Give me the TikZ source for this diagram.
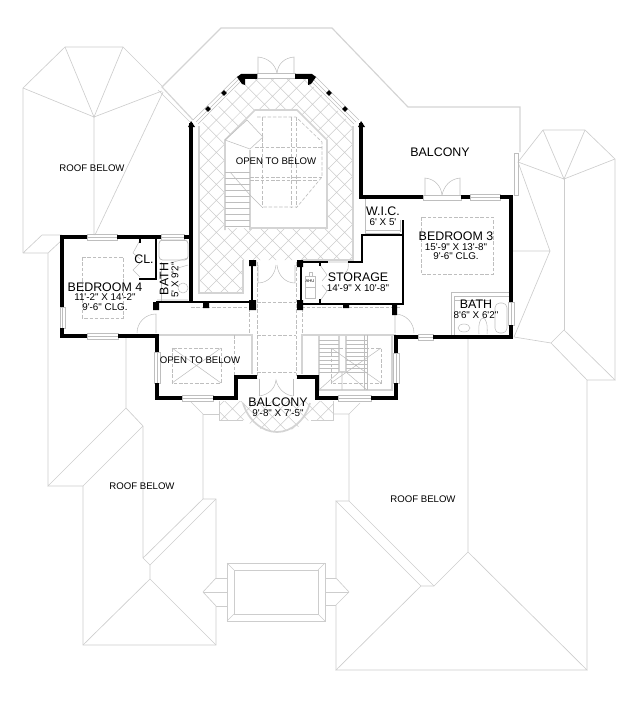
\documentclass[tikz,border=0pt]{standalone}
\usepackage{fontspec}
\usetikzlibrary{shapes.geometric}
\newfontfamily\planfont{Liberation Sans}
\definecolor{roofgray}{HTML}{CDCDCD}
\definecolor{railgray}{HTML}{D4D4D4}
\definecolor{fixgray}{HTML}{BEBEBE}
\tikzset{
  wall/.style={line width=3.4pt, black, line cap=butt},
  thinwall/.style={line width=2.2pt, black},
  roofline/.style={line width=0.55pt, roofgray},
  rail/.style={line width=1.5pt, railgray},
  glass/.style={line width=0.5pt, draw=fixgray},
  fixture/.style={line width=0.45pt, fixgray},
  tray/.style={line width=0.5pt, fixgray, dashed, dash pattern=on 3pt off 1.5pt},
  tile/.style={line width=0.45pt, roofgray},
  roomname/.style={font=\planfont\fontsize{10.6}{12}\selectfont, inner sep=0pt},
  roomsize/.style={font=\planfont\fontsize{8.4}{10}\selectfont, inner sep=0pt},
  roofname/.style={font=\planfont\fontsize{8.2}{10}\selectfont, inner sep=0pt},
  post/.style={fill=black, minimum size=3.4pt, inner sep=0pt, rotate=45}
}
\begin{document}
\begin{tikzpicture}[x=0.03cm,y=-0.03cm]
\useasboundingbox (0,0) rectangle (625,702);

% roof upper left
\draw[roofline] (23,253) -- (23,88) -- (65,47) -- (123,47) -- (163,87);
\draw[roofline] (23,88) -- (94,117) -- (65,47) (123,47) -- (94,117) -- (162,91);
\draw[roofline] (94,117) -- (94,235) (163,92) -- (95,235);
\draw[roofline] (23,253) -- (42,235) -- (62,235) (23,253) -- (48,253) -- (62,240);
\draw[roofline] (48,253) -- (48,486) -- (126,408) -- (126,337);
% roof lower left
\draw[roofline] (126,408) -- (143,426) -- (83,486) -- (48,486);
\draw[roofline] (83,486) -- (83,645) -- (216,645) -- (216,606) -- (203,592) -- (216,578) -- (216,499) -- (203,499) -- (203,414) -- (191,402);
\draw[roofline] (203,414) -- (219,414);
\draw[roofline] (143,426) -- (143,558) -- (150,565) -- (216,499) (203,499) -- (143,558);
\draw[roofline] (150,565) -- (150,579) -- (83,645) (150,579) -- (216,645);
% roof lower right
\draw[roofline] (468,338) -- (468,552) -- (434,586) -- (421,586) -- (336,670) -- (587,670) -- (468,552);
\draw[roofline] (587,670) -- (587,380) -- (615,380) -- (564,330) -- (551,343) -- (587,380);
\draw[roofline] (349,501) -- (349,414) -- (360,403) (349,414) -- (333,414);
\draw[roofline] (349,501) -- (336,501) -- (421,586) (349,501) -- (434,586);
\draw[roofline] (336,501) -- (336,578) -- (349,592) -- (336,605) -- (336,670);
% roof right
\draw[roofline] (615,380) -- (615,159) -- (585,130) -- (543,130) -- (518,162);
\draw[roofline] (518,162) -- (564,179) -- (543,130) (585,130) -- (564,179) -- (615,159);
\draw[roofline] (564,179) -- (564,330);
\draw[roofline] (518,162) -- (550,251) -- (514,337) -- (551,343) (513,251) -- (550,251);

% front roof frame
\draw[roofline] (227,563) rectangle (325,621) (234,570) rectangle (318,614);
\draw[roofline] (227,563) -- (234,570) (325,563) -- (318,570) (227,621) -- (234,614) (325,621) -- (318,614);
\draw[roofline] (216,578) -- (227,578) (203,592) -- (227,592) (216,606) -- (227,606);
\draw[roofline] (325,578) -- (336,578) (325,592) -- (349,592) (325,605) -- (336,605);

% upper balcony edge
\draw[rail, line width=1pt] (193,120) -- (162,87) -- (221,28) -- (332,28) -- (408,107) -- (520,107) -- (520,152);
\draw[roofline] (158,90) -- (190,122);
\draw[glass] (514,153) rectangle (518,195);

% tiled floor around opening
\begin{scope}
\clip (199,126) -- (246,79) -- (306,79) -- (353,126) -- (353,260) -- (243,260) -- (243,293) -- (200,293) -- cycle;
\draw[tile, step=0.34cm, rotate=45] (-600,-600) grid (600,600);
\end{scope}
\fill[white] (225,140) -- (255,110) -- (297,110) -- (327,140) -- (327,228) -- (225,228) -- cycle;
\draw[rail] (225,230) -- (225,140) -- (255,110) -- (297,110) -- (327,140) -- (327,228) -- (250,228);
\draw[rail] (199,126) -- (199,293) -- (243,293) -- (243,260);
\draw[rail, line width=1pt] (353,126) -- (353,260) -- (302,260);
\draw[rail, line width=1pt] (250,150) -- (250,230);
\foreach \treadY in {172,178,...,228}
  \draw[fixture] (225,\treadY) -- (250,\treadY);
\draw[fixture] (225,140) -- (247,120) -- (263,137) -- (250,149) -- (225,140);
\draw[tray] (257,117) -- (296,117) -- (322,142) -- (322,177) -- (297,207) -- (262,207);
\draw[tray] (262,117) -- (262,207) (291,117) -- (291,207) (296,117) -- (296,207);
\draw[tray] (255,147) -- (322,147) (250,177) -- (322,177) (250,180) -- (318,180);
\draw[fixture] (262,207) -- (250,195) (230,172) -- (250,195);

% upper doors
\draw[fixture] (258,73) -- (258,57) .. controls (268,58) and (275,64) .. (277,73);
\draw[fixture] (294,73) -- (294,57) .. controls (284,58) and (278,64) .. (277,73);
\draw[fixture] (257,73) rectangle (295,78);
\draw[fixture] (425,195) -- (425,178) .. controls (435,179) and (441,186) .. (442,195);
\draw[fixture] (460,195) -- (460,178) .. controls (450,179) and (444,186) .. (442,195);
\draw[fixture] (423,195) rectangle (461,200);

% bay window lines
\draw[fixture] (193,120) -- (238,76) (196,122) -- (240,78) (198,124) -- (242,80);
\draw[fixture] (359,120) -- (315,76) (356,122) -- (312,78) (354,124) -- (310,80);
\node[post] (post a) at (224,93) {};
\node[post] (post b) at (208,109) {};
\node[post] (post c) at (329,93) {};
\node[post] (post d) at (345,109) {};

% hall dashes and rails
\draw[tray] (257,262) -- (257,378) (296,262) -- (296,378) (249,308) -- (249,335) (302,308) -- (302,335);
\draw[tray] (191,307) -- (252,307) (296,307) -- (400,307) (257,302) -- (296,302) (257,335) -- (296,335) (257,372) -- (296,372);
\draw[rail] (157,335) -- (252,335) -- (252,374);
\draw[rail] (396,335) -- (302,335) -- (302,374);
\draw[fixture] (258,265) -- (258,283) .. controls (268,283) and (275,275) .. (276,265);
\draw[fixture] (295,265) -- (295,283) .. controls (285,283) and (278,275) .. (277,265);
\draw[fixture] (259,379) -- (259,396) (293,379) -- (293,396);
\draw[fixture] (259,396) .. controls (268,395) and (275,389) .. (276,380) .. controls (278,389) and (285,395) .. (293,396);

% left opening
\draw[tray] (172,348) rectangle (221,383);
\draw[fixture] (172,383) -- (221,348) (172,348) -- (221,383);
\draw[tray] (234,335) -- (234,375);

% stair well
\draw[rail, line width=1pt] (319,335) -- (319,390) -- (392,390) -- (392,335);
\draw[rail, line width=1pt] (339,335) -- (339,372) -- (346,372) -- (346,335);
\foreach \treadY in {340,344,...,372} {
  \draw[fixture] (319,\treadY) -- (339,\treadY);
  \draw[fixture] (346,\treadY) -- (367,\treadY);
}
\draw[fixture] (367,335) -- (367,390) (364,335) -- (364,390);
\draw[fixture] (319,390) -- (339,372) (367,390) -- (346,372) (342,372) -- (342,390);
\draw[tray] (331,348) rectangle (381,383);
\draw[fixture] (331,383) -- (381,348) (331,348) -- (381,383);

% lower balcony
\begin{scope}
\clip (219,401) -- (219,420) -- (245,420) .. controls (252,426) and (265,432) .. (277,432) .. controls (289,432) and (302,426) .. (309,420) -- (333,420) -- (333,401) -- cycle;
\draw[tile, step=0.34cm, rotate=45] (-600,-600) grid (600,600);
\end{scope}
\draw[roofline] (243,420) -- (219,420) -- (219,401) (311,420) -- (333,420) -- (333,401);
\draw[rail] (243,403) .. controls (248,420) and (262,432) .. (277,432) .. controls (292,432) and (305,420) .. (310,403);

% bedroom 4
\draw[tray] (82,257) rectangle (123,318);
\draw[fixture] (156,333) -- (156,314) arc[start angle=-90, end angle=-180, radius=19];
\draw[fixture] (140,240) -- (133,253) -- (140,259) (140,263) -- (133,270) -- (140,277);
\draw[fixture, line width=0.7pt, rounded corners=3pt] (159,240) rectangle (188,260);
\draw[fixture] (157,300) -- (188,300) (170,263) -- (188,258) (178,268) -- (188,265);
\draw[fixture] (183,288) ellipse (5 and 5);
\draw[fixture] (161,262) -- (161,302);

% bedroom 3
\draw[tray] (421,217) rectangle (493,274);
\draw[fixture] (451,335) -- (451,292) -- (510,292) (454,335) -- (454,296) -- (510,296);
\draw[fixture] (454,300) -- (490,300);
\draw[fixture, rounded corners=4pt] (495,303) rectangle (507,333);
\draw[fixture] (464,328) ellipse (6 and 4);
\draw[fixture] (479,334) .. controls (478,325) and (480,318) .. (483,318) .. controls (486,318) and (488,325) .. (487,334);
\draw[fixture] (395,333) -- (395,314) arc[start angle=-90, end angle=0, radius=19];

% storage and w.i.c.
\draw[fixture] (365,233) -- (400,233) (365,230) -- (400,230) (365,199) -- (365,235) (400,220) -- (400,232);
\draw[fixture] (305,276) rectangle (315,287) (305,287) rectangle (315,298);
\draw[fixture] (309,276) -- (309,272) -- (312,272) -- (312,276);
\draw[fixture] (320,265) -- (327,275) -- (322,281) (320,301) -- (327,291) -- (322,285);
\draw[fixture] (328,262) -- (348,262) (348,262) .. controls (349,267) and (348,271) .. (345,273);

% windows
\draw[glass] (87,234) rectangle (117,240) (87,237) -- (117,237);
\draw[glass] (161,234) rectangle (184,240) (161,237) -- (184,237);
\draw[glass] (87,333) rectangle (118,339) (87,336) -- (118,336);
\draw[glass] (60,307) rectangle (65,328) (62,307) -- (62,328);
\draw[glass] (154,352) rectangle (160,383) (157,352) -- (157,383);
\draw[glass] (182,395) rectangle (213,401) (182,398) -- (213,398);
\draw[glass] (338,395) rectangle (371,401) (338,398) -- (371,398);
\draw[glass] (393,353) rectangle (399,383) (396,353) -- (396,383);
\draw[glass] (418,334) rectangle (433,340) (418,337) -- (433,337);
\draw[glass] (508,302) rectangle (514,325) (511,302) -- (511,325);
\draw[glass] (470,194) rectangle (500,200) (470,197) -- (500,197);

% walls
\draw[wall] (62,307) -- (62,237) -- (87,237) (117,237) -- (161,237) (184,237) -- (191,237);
\draw[wall] (191,123) -- (191,302);
\draw[wall] (62,328) -- (62,336) -- (87,336) (118,336) -- (157,336) -- (157,352);
\draw[wall] (157,383) -- (157,398) -- (182,398) (213,398) -- (236,398) -- (236,377) -- (257,377);
\draw[wall] (297,377) -- (317,377) -- (317,398) -- (338,398) (371,398) -- (396,398) -- (396,383);
\draw[wall] (396,353) -- (396,337) -- (418,337) (433,337) -- (511,337) -- (511,325);
\draw[wall] (511,302) -- (511,197) -- (500,197) (470,197) -- (461,197);
\draw[wall] (423,197) -- (361,197) -- (361,123);
\draw[thinwall] (156,237) -- (156,280) (140,237) -- (140,243) (139,279) -- (156,279);
\draw[thinwall] (156,302) -- (252,302) (252,260) -- (252,310);
\draw[thinwall] (298,262) -- (328,262) (348,262) -- (362,262) -- (362,235) -- (403,235);
\draw[thinwall] (403,220) -- (403,304) -- (298,304) (301,262) -- (301,304);
\draw[thinwall] (320,262) -- (320,266) (320,299) -- (320,304);
\fill (249,260) rectangle (256,266) (249,300) rectangle (256,310);
\fill (297,260) rectangle (303,267) (297,300) rectangle (303,310);
\fill (203,303) rectangle (209,308) (153,302) rectangle (159,310);
\fill (343,303) rectangle (349,308) (392,303) rectangle (397,315);
\fill (237,77) -- (241,74) -- (257,74) -- (257,79) -- (245,79) -- (245,85) -- (242,84) -- cycle;
\fill (316,77) -- (312,74) -- (295,74) -- (295,79) -- (308,79) -- (308,85) -- (311,84) -- cycle;
\fill (188,127) -- (191,121) -- (195,127) -- cycle (358,127) -- (361,121) -- (365,127) -- cycle;

% labels
\node[roofname] (roof a) at (92,168) {ROOF BELOW};
\node[roofname] (roof b) at (142,486) {ROOF BELOW};
\node[roofname] (roof c) at (423,499) {ROOF BELOW};
\node[roofname] (open a) at (276,161) {OPEN TO BELOW};
\node[roofname] (open b) at (200,360) {OPEN TO BELOW};
\node[roomname] (balcony top) at (440,152) {BALCONY};
\node[roomname] (bed4) at (105,287) {BEDROOM 4};
\node[roomsize] (bed4 size) at (105,297) {11'-2" X 14'-2"};
\node[roomsize] (bed4 clg) at (105,307) {9'-6" CLG.};
\node[roomname] (bed3) at (456,236) {BEDROOM 3};
\node[roomsize] (bed3 size) at (456,247) {15'-9" X 13'-8"};
\node[roomsize] (bed3 clg) at (456,256) {9'-6" CLG.};
\node[roomname] (storage) at (358,277) {STORAGE};
\node[roomsize] (storage size) at (358,288) {14'-9" X 10'-8"};
\node[roomname] (wic) at (383,211) {W.I.C.};
\node[roomsize] (wic size) at (383,222) {6' X 5'};
\node[roomname] (closet) at (144,259) {CL.};
\node[roomname, rotate=90] (bath4) at (164,279) {BATH};
\node[roomsize, rotate=90] (bath4 size) at (175,280) {5' X 9'2"};
\node[roomname] (bath3) at (476,304) {BATH};
\node[roomsize] (bath3 size) at (476,315) {8'6" X 6'2"};
\node[roomname] (balcony low) at (278,402) {BALCONY};
\node[roomsize] (balcony size) at (278,413) {9'-8" X 7'-5"};
\node[font=\planfont\fontsize{3.5}{4}\selectfont, inner sep=0pt] (ahu) at (310,281) {AHU};
\end{tikzpicture}
\end{document}
